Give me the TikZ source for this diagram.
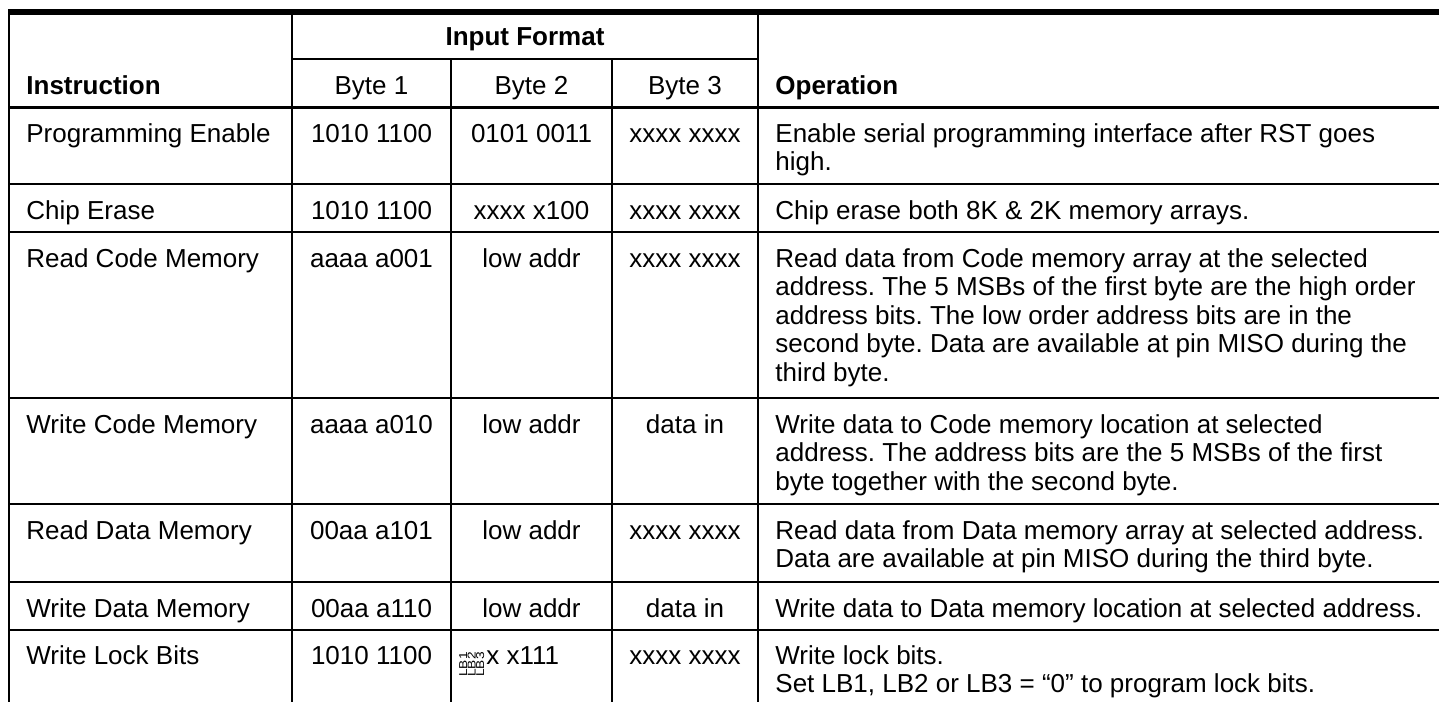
\documentclass[tikz,border=0pt]{standalone}
\usepackage{fontspec}
\setmainfont{Liberation Sans}
\frenchspacing
\newcommand{\oplines}[1]{\begin{tabular}[t]{@{}l@{}}#1\end{tabular}}
\newcommand{\lbtext}[1]{\scalebox{1.2}[1]{#1}}
\tikzset{
  txt/.style={inner sep=0pt, font=\fontsize{13}{14.3}\selectfont},
  hdr/.style={inner sep=0pt, font=\fontsize{13}{14.3}\selectfont\bfseries},
  optxt/.style={txt, anchor=base west},
  lbbit/.style={inner sep=0pt, font=\fontsize{5.7}{6}\selectfont, rotate=90, anchor=base west},
  rule/.style={line width=0.6pt}
}
\begin{document}
\begin{tikzpicture}[x=0.5pt,y=-0.5pt]
  \useasboundingbox (0,0) rectangle (1439,702);
  % heavy rules
  \draw[line width=3pt] (8,12) -- (1439,12);
  \draw[line width=1pt] (9,10.5) -- (9,702);
  \draw[line width=1.5pt] (9,107.5) -- (1439,107.5);
  % column and row rules
  \foreach \x in {292,758} \draw[rule] (\x,13.5) -- (\x,702);
  \foreach \x in {451,612} \draw[rule] (\x,59) -- (\x,702);
  \draw[rule] (292,59) -- (758,59);
  \foreach \y in {184,232,398,504,582,630} \draw[rule] (9,\y) -- (1439,\y);

  % header
  \node[hdr, anchor=base] (fmt) at (525,45) {Input Format};
  \node[hdr, anchor=base west] (instr) at (26,94) {Instruction};
  \node[txt, anchor=base] (byte1) at (371.5,94) {Byte 1};
  \node[txt, anchor=base] (byte2) at (531.5,94) {Byte 2};
  \node[txt, anchor=base] (byte3) at (685,94) {Byte 3};
  \node[hdr, anchor=base west] (oper) at (775,94) {Operation};

  % instruction rows
  \foreach \n/\t/\ins/\ba/\bb/\bc in {
      1/107/Programming Enable/1010 1100/0101 0011/xxxx xxxx,
      2/184/Chip Erase/1010 1100/xxxx x100/xxxx xxxx,
      3/232/Read Code Memory/aaaa a001/low addr/xxxx xxxx,
      4/398/Write Code Memory/aaaa a010/low addr/data in,
      5/504/Read Data Memory/00aa a101/low addr/xxxx xxxx,
      6/582/Write Data Memory/00aa a110/low addr/data in}{
    \node[txt, anchor=base west] (ins\n) at (26,\t+35) {\ins};
    \node[txt, anchor=base] (ba\n) at (371.5,\t+35) {\ba};
    \node[txt, anchor=base] (bb\n) at (531.5,\t+35) {\bb};
    \node[txt, anchor=base] (bc\n) at (685,\t+35) {\bc};
  }
  \node[txt, anchor=base west] (ins7) at (26,664) {Write Lock Bits};
  \node[txt, anchor=base] (ba7) at (371.5,664) {1010 1100};
  \node[lbbit] (lb1) at (467,677) {\lbtext{LB1}};
  \node[lbbit] (lb2) at (475.5,677) {\lbtext{LB2}};
  \node[lbbit] (lb3) at (484,677) {\lbtext{LB3}};
  \node[txt, anchor=base west] (bb7) at (486,664) {x x111};
  \node[txt, anchor=base] (bc7) at (685,664) {xxxx xxxx};

  % operations
  \node[optxt] (op1) at (775,142) {\oplines{Enable serial programming interface after RST goes\\high.}};
  \node[optxt] (op2) at (775,219) {Chip erase both 8K \& 2K memory arrays.};
  \node[optxt] (op3) at (775,267) {\oplines{Read data from Code memory array at the selected\\address. The 5 MSBs of the first byte are the high order\\address bits. The low order address bits are in the\\second byte. Data are available at pin MISO during the\\third byte.}};
  \node[optxt] (op4) at (775,433) {\oplines{Write data to Code memory location at selected\\address. The address bits are the 5 MSBs of the first\\byte together with the second byte.}};
  \node[optxt] (op5) at (775,539) {\oplines{Read data from Data memory array at selected address.\\Data are available at pin MISO during the third byte.}};
  \node[optxt] (op6) at (775,617) {Write data to Data memory location at selected address.};
  \node[optxt] (op7) at (775,664) {\oplines{Write lock bits.\\Set LB1, LB2 or LB3 = “0” to program lock bits.}};
\end{tikzpicture}
\end{document}
